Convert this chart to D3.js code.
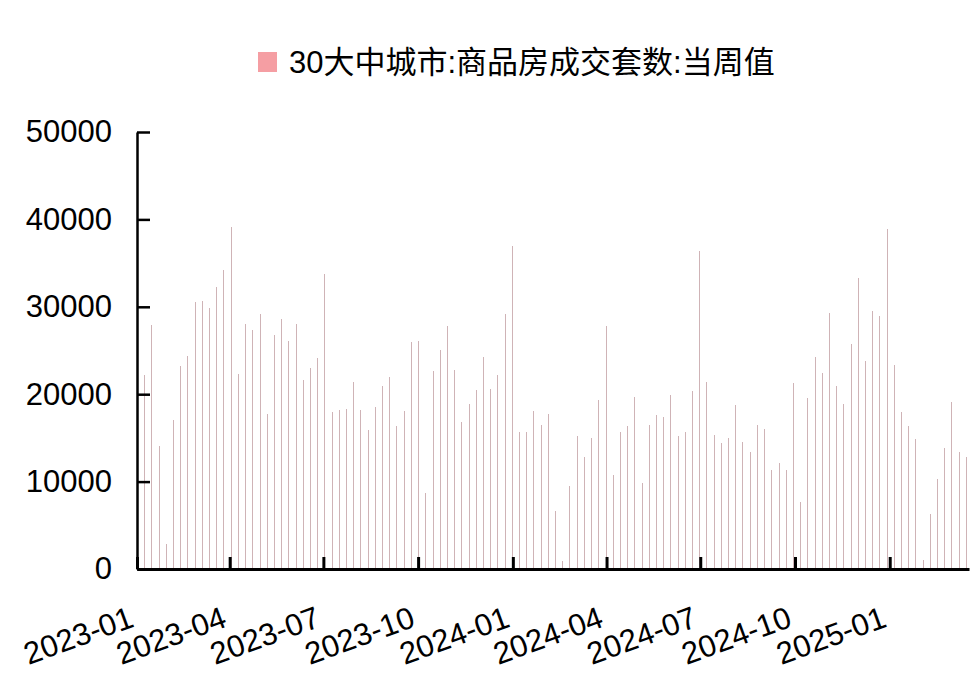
<!DOCTYPE html>
<html>
<head>
<meta charset="utf-8">
<script src="https://cdn.jsdelivr.net/npm/d3@7"></script>
<style>
  body { margin: 0; background: #fff; }
  svg text { font-family: "Liberation Sans", Arial, "Noto Sans CJK SC", sans-serif; fill: #000; }
</style>
</head>
<body>
<div id="chart"></div>
<script>
// weekly series, first week ending 2023-01-08 (Sunday)
const firstWeek = "2023-01-08";
const values2023 = [
  22250, 27940, 14050, 2860, 17060, 23200, 24390, 30570, 30650, 29810, 32210, 34240, 39120,
  22330, 28050, 27400, 29200, 17750, 26790, 28630, 26070, 28050, 21680, 22980, 24160, 33780,
  18020, 18240, 18360, 21370, 18240, 15920, 18510, 20990, 21950, 16340, 18130, 25950, 26030,
  8660, 22630, 25080, 27790, 22790, 16870, 18930, 20500, 24310, 20570, 22250, 29200, 36910
];
const values2024 = [
  15650, 15650, 18050, 16490, 17750, 6680, 950, 9540, 15190, 12820, 15000, 19390, 27860,
  10800, 15730, 16340, 19730, 9850, 16530, 17630, 17440, 19890, 15270, 15650, 20340, 36340,
  21370, 15380, 14430, 15000, 18820, 14580, 13360, 16530, 16030, 11340, 12140, 11340, 21300,
  7630, 19540, 24310, 22400, 29310, 20990, 18890, 25690, 33280, 23850, 29500, 28930, 38850
];
const values2025 = [23360, 18020, 16340, 14890, 1070, 6300, 10300, 13820, 19160, 13360, 12790];

const xTickLabels = ["2023-01", "2023-04", "2023-07", "2023-10", "2024-01", "2024-04", "2024-07", "2024-10", "2025-01"];
const yTicks = [0, 10000, 20000, 30000, 40000, 50000];
const seriesName = "30大中城市:商品房成交套数:当周值";

const values = values2023.concat(values2024, values2025);
const parseDay = d3.utcParse("%Y-%m-%d");
const parseMonth = d3.utcParse("%Y-%m");
const start = parseDay(firstWeek);
const data = values.map((v, i) => ({ date: d3.utcDay.offset(start, i * 7), value: v }));

const width = 980, height = 693;
const margin = { left: 137, right: 969, top: 132, bottom: 569 };

const svg = d3.select("#chart").append("svg")
  .attr("width", width)
  .attr("height", height);

svg.append("rect").attr("width", width).attr("height", height).attr("fill", "#fff");

const x = d3.scaleUtc()
  .domain([parseDay("2023-01-01"), parseDay("2025-03-19")])
  .range([margin.left, margin.right]);

const y = d3.scaleLinear()
  .domain([0, 50000])
  .range([margin.bottom, margin.top]);

// bars (thin, one per week)
svg.append("g")
  .selectAll("rect")
  .data(data)
  .enter()
  .append("rect")
  .attr("x", d => Math.round(x(d.date)) - 0.5)
  .attr("y", d => y(d.value))
  .attr("width", 1)
  .attr("height", d => margin.bottom - y(d.value))
  .attr("fill", "#cfb3b6")
  .attr("shape-rendering", "crispEdges");

// y axis, ticks pointing inward
const yAxis = svg.append("g")
  .attr("transform", `translate(${margin.left},0)`)
  .call(d3.axisLeft(y).tickValues(yTicks).tickSize(-13).tickSizeOuter(0).tickPadding(25).tickFormat(d3.format("d")));
yAxis.select(".domain").attr("stroke", "#000").attr("stroke-width", 2.5);
yAxis.selectAll(".tick line").attr("stroke", "#000").attr("stroke-width", 2.5);
yAxis.selectAll(".tick text").attr("font-size", 31).attr("font-family", "Liberation Sans, Arial, sans-serif");

// x axis, ticks pointing inward, rotated labels
const xAxis = svg.append("g")
  .attr("transform", `translate(0,${margin.bottom})`)
  .call(d3.axisBottom(x)
    .tickValues(xTickLabels.map(parseMonth))
    .tickSize(-12)
    .tickSizeOuter(0)
    .tickFormat(d3.utcFormat("%Y-%m")));
xAxis.select(".domain").attr("stroke", "#000").attr("stroke-width", 3);
xAxis.selectAll(".tick line").attr("stroke", "#000").attr("stroke-width", 3);
xAxis.selectAll(".tick text")
  .attr("font-size", 31)
  .attr("font-family", "Liberation Sans, Arial, sans-serif")
  .attr("y", 0)
  .attr("dy", 0)
  .style("text-anchor", "end")
  .attr("transform", "translate(-2,57) rotate(-20)");

// legend
const legend = svg.append("g");
legend.append("rect")
  .attr("x", 258).attr("y", 52)
  .attr("width", 19).attr("height", 20)
  .attr("fill", "#f59ea3");
legend.append("text")
  .attr("x", 289).attr("y", 62)
  .attr("dominant-baseline", "central")
  .attr("font-size", 31)
  .text(seriesName);
</script>
</body>
</html>
